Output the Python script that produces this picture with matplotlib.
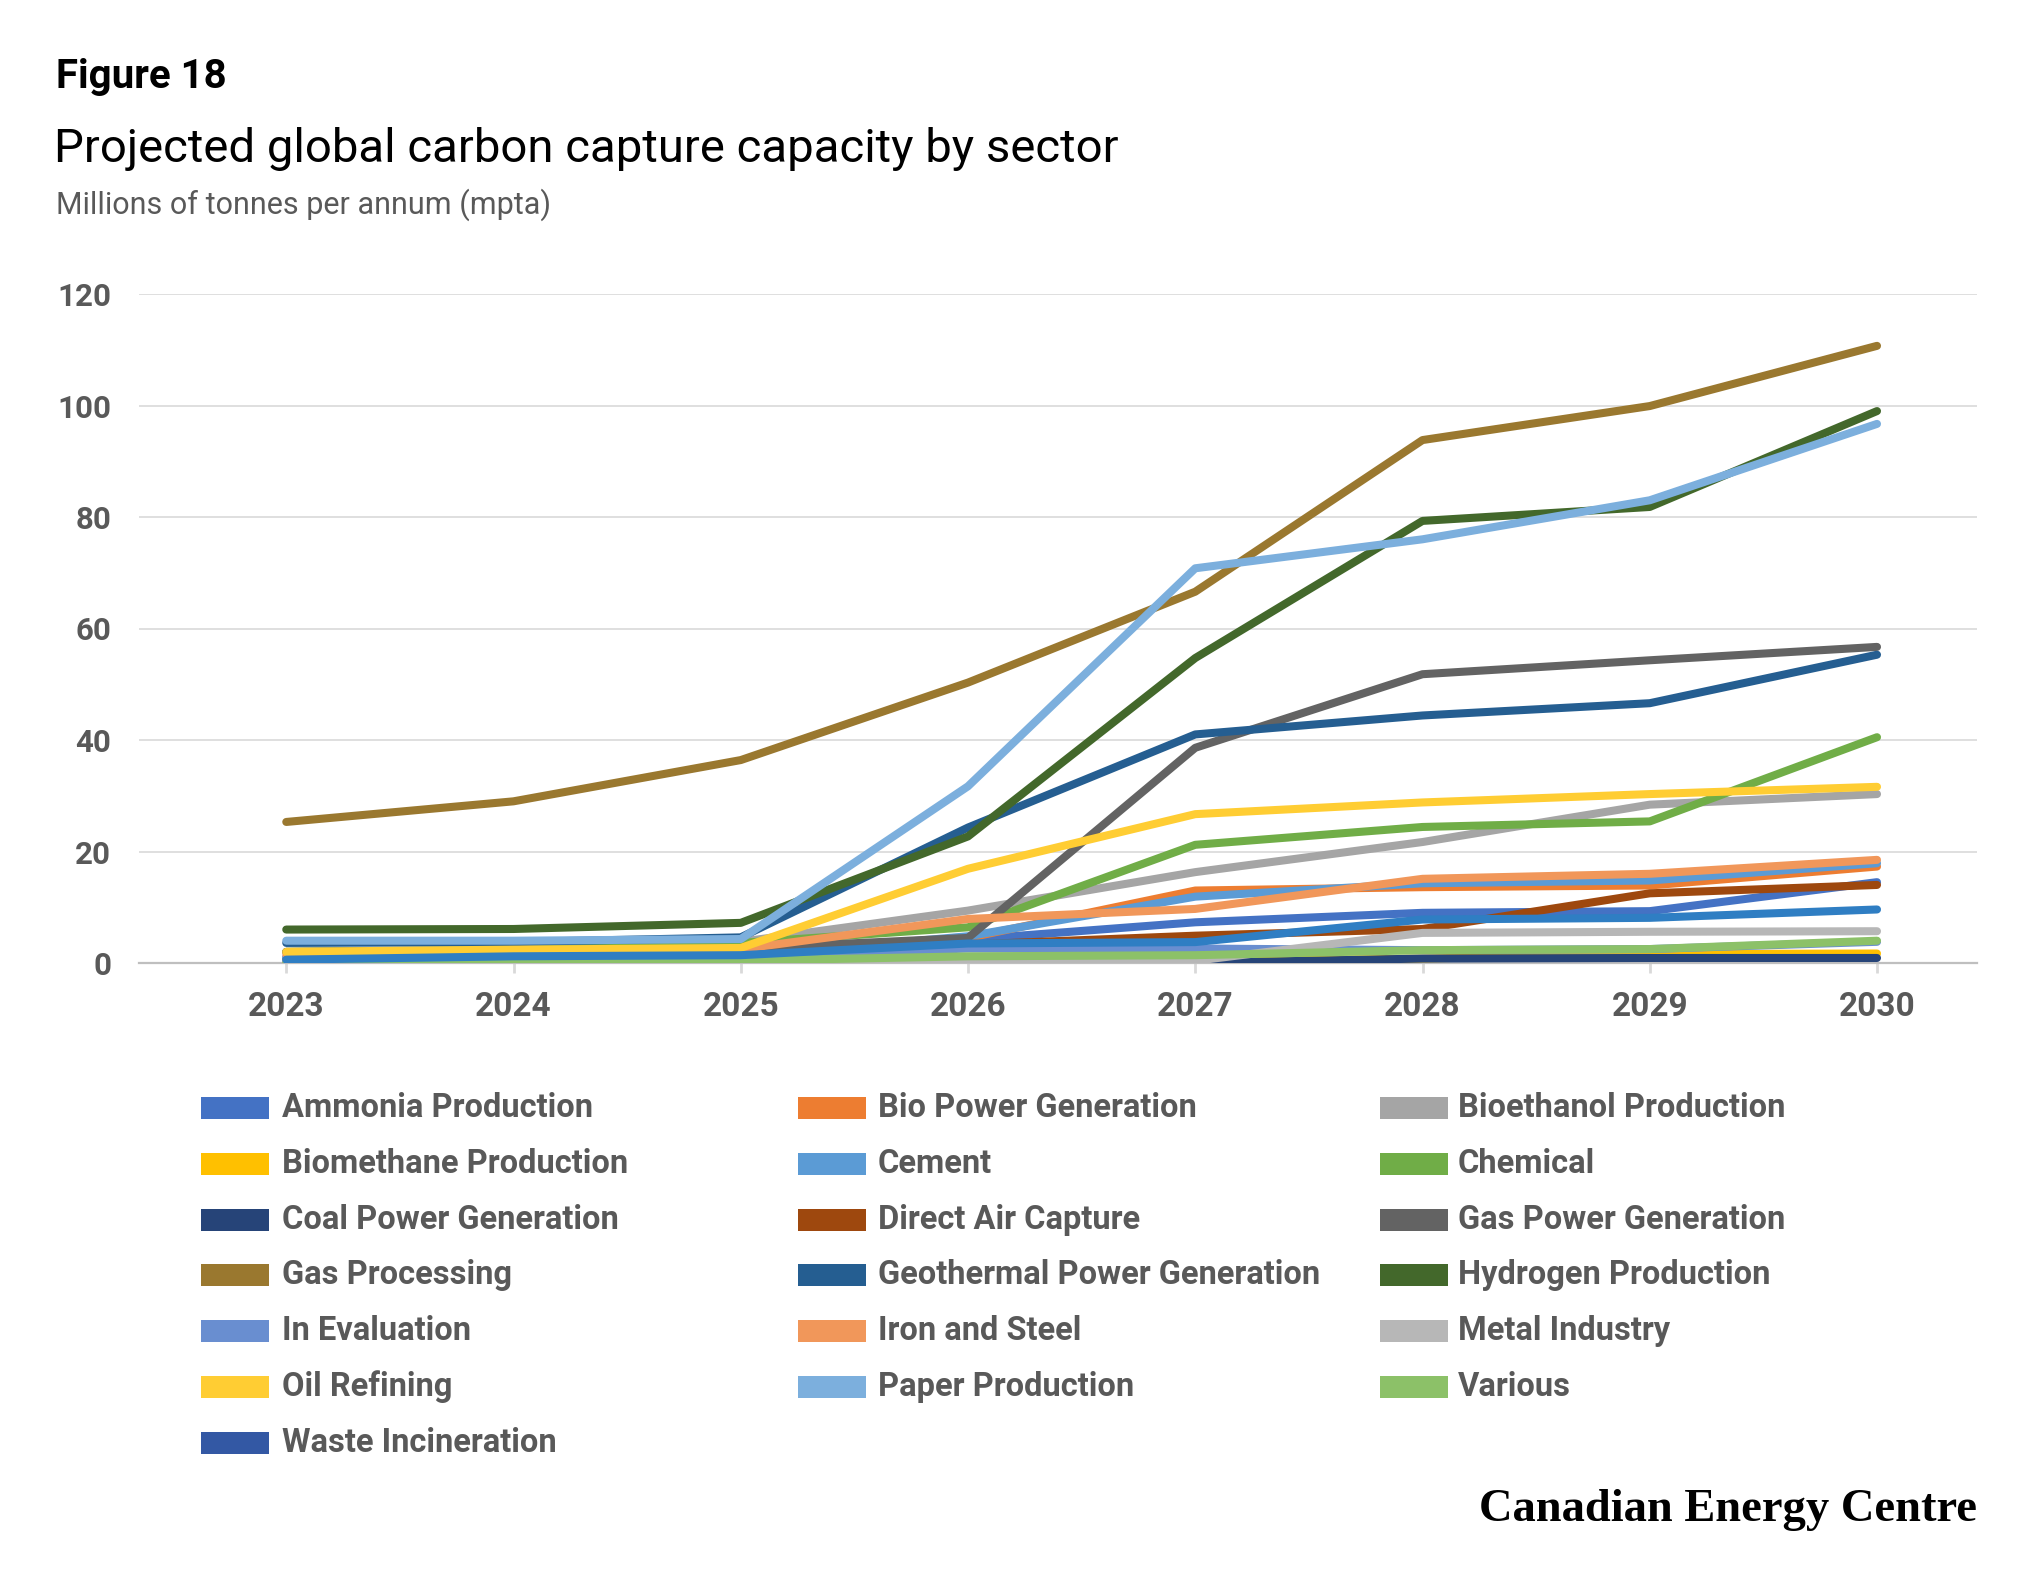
import matplotlib.pyplot as plt
from matplotlib.patches import Rectangle

plt.rcParams['font.family'] = ['Roboto', 'DejaVu Sans']

years = [2023, 2024, 2025, 2026, 2027, 2028, 2029, 2030]

# series in the original drawing order (later ones sit on top)
sectors = ['Ammonia Production', 'Bio Power Generation', 'Bioethanol Production',
           'Biomethane Production', 'Cement', 'Chemical',
           'Coal Power Generation', 'Direct Air Capture', 'Gas Power Generation',
           'Gas Processing', 'Geothermal Power Generation', 'Hydrogen Production',
           'In Evaluation', 'Iron and Steel', 'Metal Industry',
           'Oil Refining', 'Paper Production', 'Various',
           'Waste Incineration']

ammonia = [1.0, 1.5, 1.5, 4.2, 7.3, 9.0, 9.3, 14.5]
bio_power = [0.5, 1.0, 1.5, 4.5, 13.0, 13.6, 13.9, 17.3]
bioethanol = [2.0, 2.5, 3.8, 9.4, 16.3, 21.7, 28.4, 30.3]
biomethane = [0.3, 0.3, 0.3, 0.3, 0.3, 0.8, 1.6, 1.7]
cement = [1.0, 1.0, 1.2, 4.8, 11.9, 14.3, 14.8, 17.9]
chemical = [2.0, 2.3, 3.6, 6.4, 21.2, 24.4, 25.4, 40.5]
coal_power = [0.0, 0.0, 0.0, 0.0, 0.0, 0.8, 0.9, 0.9]
direct_air = [0.5, 0.5, 0.6, 3.3, 4.9, 6.1, 12.5, 14.0]
gas_power = [2.0, 2.2, 2.6, 4.5, 38.6, 51.8, 54.3, 56.7]
gas_processing = [25.3, 29.0, 36.4, 50.3, 66.6, 93.8, 99.9, 110.7]
geothermal = [3.6, 3.75, 4.6, 24.3, 41.0, 44.4, 46.6, 55.3]
hydrogen = [6.0, 6.1, 7.2, 22.7, 54.7, 79.3, 81.8, 99.0]
in_evaluation = [0.3, 0.8, 1.0, 2.6, 2.6, 2.3, 2.5, 3.8]
iron_steel = [1.5, 2.0, 2.5, 7.9, 9.7, 15.1, 16.0, 18.5]
metal = [0.3, 0.3, 0.3, 0.4, 0.4, 5.4, 5.6, 5.7]
oil_refining = [2.0, 2.4, 2.7, 16.9, 26.7, 28.8, 30.3, 31.6]
paper = [4.0, 4.0, 4.3, 31.7, 70.8, 76.0, 83.0, 96.7]
various = [0.0, 0.2, 0.4, 1.2, 1.4, 2.3, 2.5, 4.0]
waste = [0.6, 1.2, 1.4, 3.5, 3.75, 7.8, 8.1, 9.6]

values = [ammonia, bio_power, bioethanol, biomethane, cement, chemical,
          coal_power, direct_air, gas_power, gas_processing, geothermal, hydrogen,
          in_evaluation, iron_steel, metal, oil_refining, paper, various, waste]

colors = ['#4472C4', '#ED7D31', '#A5A5A5', '#FFC000', '#5B9BD5', '#70AD47',
          '#264478', '#9E480E', '#636363', '#9A782F', '#255E91', '#43682B',
          '#698ED0', '#F1975A', '#B7B7B7', '#FFCD33', '#7CAFDD', '#8CC168',
          '#2F7EC3']
legend_colors = colors[:-1] + ['#3358A4']

yticks = [0, 20, 40, 60, 80, 100, 120]

fig = plt.figure(figsize=(20.25, 15.75), dpi=100)
ax = fig.add_axes([139 / 2025, 1 - 963 / 1575, 1838 / 2025, 669 / 1575])

for i in range(len(sectors)):
    ax.plot(years, values[i], color=colors[i], lw=5.8, solid_capstyle='round',
            solid_joinstyle='round', zorder=3 + i)

ax.set_ylim(0, 120)
ax.set_xlim(2023 - 0.648, 2030 + 0.44)
ax.set_yticks(yticks)
ax.set_xticks(years)
ax.yaxis.grid(True, color='#D9D9D9', lw=1.2)
ax.set_axisbelow(True)
for s in ['top', 'right', 'left']:
    ax.spines[s].set_visible(False)
ax.spines['bottom'].set_color('#BFBFBF')
ax.spines['bottom'].set_linewidth(1.6)
ax.tick_params(axis='y', length=0, pad=20, labelsize=22.5, labelcolor='#595959')
ax.tick_params(axis='x', length=7, width=2, color='#D9D9D9', pad=13,
               labelsize=24, labelcolor='#595959')
for lab in ax.get_xticklabels() + ax.get_yticklabels():
    lab.set_fontweight('bold')

# titles
fig.text(56 / 2025, 1 - 88 / 1575, 'Figure 18', fontsize=29, fontweight='bold',
         color='black', ha='left', va='baseline')
fig.text(54 / 2025, 1 - 162 / 1575, 'Projected global carbon capture capacity by sector',
         fontsize=34, color='black', ha='left', va='baseline')
fig.text(56 / 2025, 1 - 214 / 1575, 'Millions of tonnes per annum (mpta)',
         fontsize=22, color='#595959', ha='left', va='baseline')

# legend, three columns filled row by row
col_swatch = [201, 798, 1380]
col_text = [282, 878, 1458]
row0 = 1108
row_step = 55.8
for i, name in enumerate(sectors):
    r, c = divmod(i, 3)
    yc = row0 + r * row_step
    fig.add_artist(Rectangle((col_swatch[c] / 2025, 1 - (yc + 11) / 1575),
                             68 / 2025, 22 / 1575, transform=fig.transFigure,
                             facecolor=legend_colors[i], edgecolor='none'))
    fig.text(col_text[c] / 2025, 1 - yc / 1575, name, fontsize=23.5,
             fontweight='bold', color='#595959', ha='left', va='center')

fig.text(1977 / 2025, 1 - 1510 / 1575, 'Canadian Energy Centre', fontsize=33.5,
         fontweight='bold', family=['Liberation Serif', 'DejaVu Serif'],
         color='black', ha='right', va='center')

fig.savefig('out.png', dpi=100)
